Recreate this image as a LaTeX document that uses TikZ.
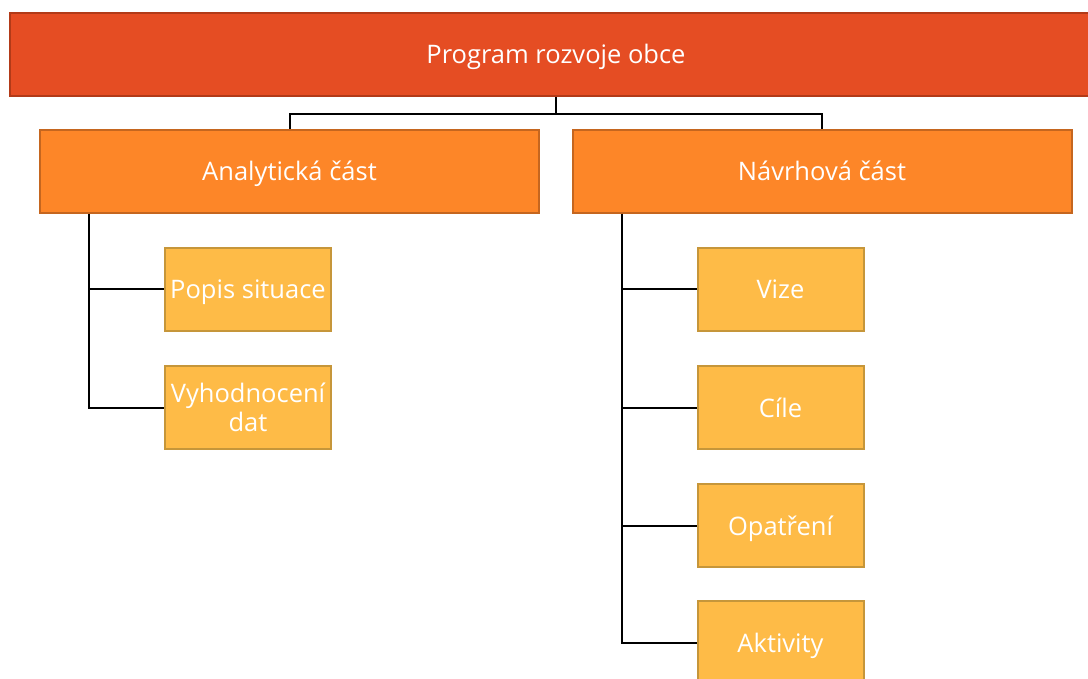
\documentclass[tikz,border=0pt]{standalone}
\usepackage{fontspec}
\setmainfont{Open Sans}
\usetikzlibrary{positioning}

\definecolor{progfill}{HTML}{E54D23}
\definecolor{progline}{HTML}{B23A18}
\definecolor{partfill}{HTML}{FD8628}
\definecolor{partline}{HTML}{C5661F}
\definecolor{itemfill}{HTML}{FEBB47}
\definecolor{itemline}{HTML}{C6963A}

\tikzset{
  box/.style={draw, line width=2pt, text=white, align=center, inner sep=0pt,
    minimum height=83pt, font=\fontsize{25.5}{29}\selectfont},
  oneline/.style={text height=24pt, text depth=5pt},
  progbox/.style={box, oneline, fill=progfill, draw=progline, minimum width=1092pt},
  partbox/.style={box, oneline, fill=partfill, draw=partline, minimum width=499pt},
  itembox/.style={box, fill=itemfill, draw=itemline, minimum width=166pt},
  link/.style={line width=2pt, black}
}

\begin{document}
\begin{tikzpicture}[x=1pt,y=-1pt]
		\useasboundingbox (0,0) rectangle (1088,679);
		\begin{scope}
			\clip (0,0) rectangle (1088,679);

			% links
			\coordinate (split) at (556,114);
			\draw[link] (556,96) -- (split);
			\draw[link] (split) -| (290,130);
			\draw[link] (split) -| (822,130);

			\node[progbox] (prog) at (556,54.5) {Program rozvoje obce};

			\node[partbox] (anal) at (289.5,171.5) {Analytická část};
			\node[partbox] (navrh) at (822,171.5) {Návrhová část};

			\node[itembox, oneline] (popis) at (248,289.5) {Popis situace};
			\node[itembox] (vyhod) at (248,407.5) {Vyhodnocení\\dat};

			\node[itembox, oneline] (vize) at (780.5,289.5) {Vize};
			\node[itembox, oneline] (cile) at (780.5,407.5) {Cíle};
			\node[itembox, oneline] (opatr) at (780.5,525.5) {Opatření};
			\node[itembox, oneline] (aktiv) at (780.5,642.5) {Aktivity};

			\draw[link] ([xshift=50pt]anal.south west) |- (popis.west);
			\draw[link] ([xshift=50pt]anal.south west) |- (vyhod.west);

			\draw[link] ([xshift=50pt]navrh.south west) |- (vize.west);
			\draw[link] ([xshift=50pt]navrh.south west) |- (cile.west);
			\draw[link] ([xshift=50pt]navrh.south west) |- (opatr.west);
			\draw[link] ([xshift=50pt]navrh.south west) |- (aktiv.west);
		\end{scope}
	\end{tikzpicture}
\end{document}
